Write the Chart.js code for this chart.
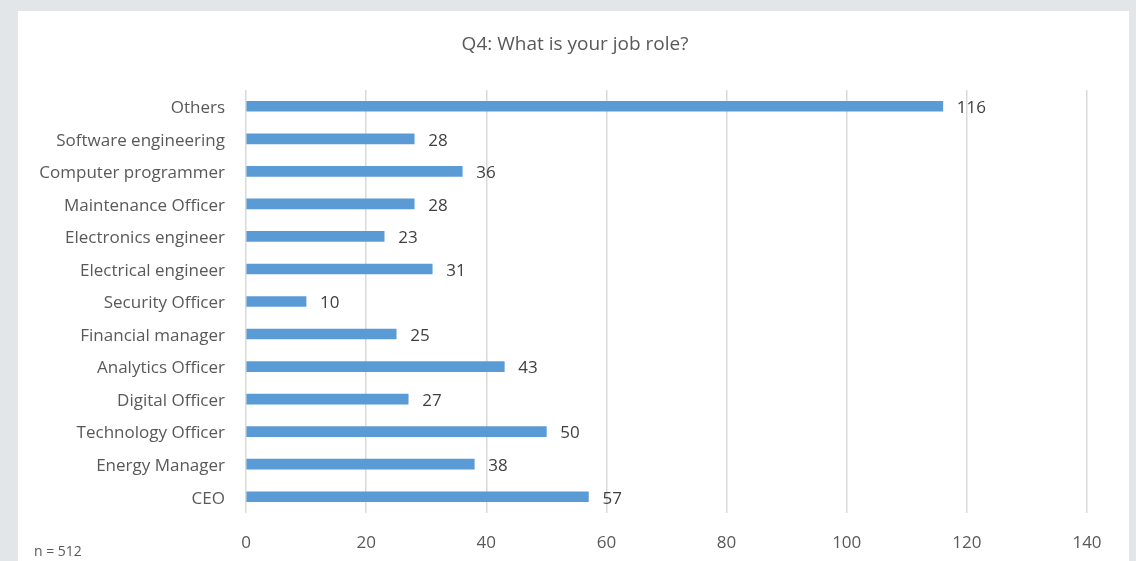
<!DOCTYPE html>
<html>
<head>
<meta charset="utf-8">
<script src="https://cdn.jsdelivr.net/npm/chart.js@4"></script>
<style>
  html, body { margin: 0; padding: 0; background: #e3e6e9; width: 1136px; height: 561px; overflow: hidden; }
  #panel { position: absolute; left: 18px; top: 11px; width: 1111px; height: 560px; background: #ffffff; }
  #wrap { position: absolute; left: 0; top: 0; width: 1136px; height: 561px; }
</style>
</head>
<body>
<div id="panel"></div>
<div id="wrap"><canvas id="c" width="1136" height="561"></canvas></div>
<script>
const categories = [
  "Others",
  "Software engineering",
  "Computer programmer",
  "Maintenance Officer",
  "Electronics engineer",
  "Electrical engineer",
  "Security Officer",
  "Financial manager",
  "Analytics Officer",
  "Digital Officer",
  "Technology Officer",
  "Energy Manager",
  "CEO"
];
const counts = [116, 28, 36, 28, 23, 31, 10, 25, 43, 27, 50, 38, 57];
const xTicks = [0, 20, 40, 60, 80, 100, 120, 140];
const chartTitle = "Q4: What is your job role?";
const sampleNote = "n = 512";

const FONT = "'Open Sans', sans-serif";
const TEXT = "#595959";

const valueLabels = {
  id: 'valueLabels',
  afterDatasetsDraw(chart) {
    const ctx = chart.ctx;
    const meta = chart.getDatasetMeta(0);
    ctx.save();
    ctx.font = "17px " + FONT;
    ctx.fillStyle = "#404040";
    ctx.textAlign = "left";
    ctx.textBaseline = "middle";
    meta.data.forEach((bar, i) => {
      ctx.fillText(String(counts[i]), bar.x + 14, bar.y + 2);
    });
    ctx.restore();
  }
};

const textBits = {
  id: 'textBits',
  afterDraw(chart) {
    const ctx = chart.ctx;
    ctx.save();
    ctx.fillStyle = TEXT;
    ctx.textBaseline = "middle";
    ctx.font = "19px " + FONT;
    ctx.textAlign = "center";
    ctx.fillText(chartTitle, 575, 45);
    ctx.font = "14px " + FONT;
    ctx.textAlign = "left";
    ctx.fillText(sampleNote, 34, 552);
    ctx.restore();
  }
};

new Chart(document.getElementById('c'), {
  type: 'bar',
  data: {
    labels: categories,
    datasets: [{
      data: counts,
      backgroundColor: '#5b9bd5',
      borderWidth: 0,
      barThickness: 10
    }]
  },
  options: {
    indexAxis: 'y',
    responsive: false,
    animation: false,
    devicePixelRatio: 1,
    layout: { padding: { left: 0, right: 49, top: 90, bottom: 0 } },
    plugins: {
      legend: { display: false },
      tooltip: { enabled: false },
      title: { display: false }
    },
    scales: {
      x: {
        min: 0,
        max: 140,
        afterBuildTicks(scale) { scale.ticks = xTicks.map(v => ({ value: v })); },
        afterFit(scale) { scale.height = 48; },
        grid: { color: '#d9d9d9', lineWidth: 1.5, drawTicks: false },
        border: { display: false },
        ticks: { color: TEXT, font: { family: FONT, size: 17 }, padding: 20 }
      },
      y: {
        afterFit(scale) { scale.width = 246; },
        grid: { display: false, drawTicks: false },
        border: { display: false },
        ticks: { color: TEXT, font: { family: FONT, size: 17 }, padding: 21, autoSkip: false, labelOffset: 2 }
      }
    }
  },
  plugins: [valueLabels, textBits]
});
</script>
</body>
</html>
